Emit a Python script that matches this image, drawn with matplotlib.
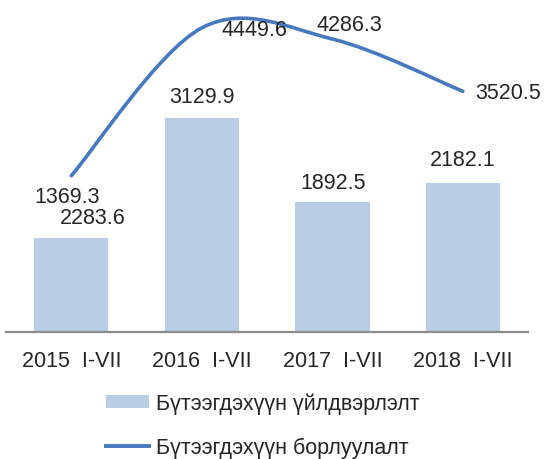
import numpy as np
import matplotlib
matplotlib.use('Agg')
import matplotlib.pyplot as plt
from matplotlib.path import Path
from matplotlib.patches import PathPatch, Patch
from matplotlib.lines import Line2D

plt.rcParams['font.family'] = ['Liberation Sans', 'DejaVu Sans']

periods = ['2015  I-VII', '2016  I-VII', '2017  I-VII', '2018  I-VII']
production = [1369.3, 3129.9, 1892.5, 2182.1]
sales = [2283.6, 4449.6, 4286.3, 3520.5]
# labels as printed on the source chart (first pair is swapped there)
production_labels = ['2283.6', '3129.9', '1892.5', '2182.1']
sales_labels = ['1369.3', '4449.6', '4286.3', '3520.5']
series_names = ['Бүтээгдэхүүн үйлдвэрлэлт', 'Бүтээгдэхүүн борлуулалт']

bar_color = '#B9CDE5'
line_color = '#4679BE'
text_color = '#262626'
fs = 15.5


def smooth_path(xs, ys):
    # excel style smoothed line: cubic bezier through each point
    pts = np.column_stack([xs, ys]).astype(float)
    n = len(pts)
    verts = [pts[0]]
    codes = [Path.MOVETO]
    for i in range(n - 1):
        p_prev = pts[max(i - 1, 0)]
        p_next2 = pts[min(i + 2, n - 1)]
        c1 = pts[i] + (pts[i + 1] - p_prev) / 6
        c2 = pts[i + 1] - (p_next2 - pts[i]) / 6
        verts += [c1, c2, pts[i + 1]]
        codes += [Path.CURVE4] * 3
    return Path(verts, codes)


fig = plt.figure(figsize=(5.45, 4.6), dpi=100)
ax = fig.add_axes([0.011, 0.2767, 0.958, 0.7126])

x = np.arange(len(periods))
ax.bar(x, production, width=0.57, color=bar_color, zorder=2)
ax.add_patch(PathPatch(smooth_path(x, sales), fill=False, edgecolor=line_color,
                       lw=2.6, capstyle='round', zorder=3))

ax.set_xlim(-0.5, len(periods) - 0.5)
ax.set_ylim(0, 4800)
for s in ['top', 'left', 'right']:
    ax.spines[s].set_visible(False)
ax.spines['bottom'].set_color('#8c8c8c')
ax.spines['bottom'].set_linewidth(1.6)
ax.set_yticks([])
ax.set_xticks(x, periods)
ax.tick_params(axis='x', length=0, pad=13, labelsize=fs, labelcolor=text_color)

# data labels (offsets in pixels)
bar_offsets = [(21, 21), (0, 21), (1, 20), (0, 23)]
line_offsets = [(-4, -21), (53, -2), (17, 15), (45, -1)]
for xi, v, lab, off in zip(x, production, production_labels, bar_offsets):
    ax.annotate(lab, (xi, v), xytext=off, textcoords='offset pixels',
                ha='center', va='center', fontsize=fs, color=text_color, zorder=4)
for xi, v, lab, off in zip(x, sales, sales_labels, line_offsets):
    ax.annotate(lab, (xi, v), xytext=off, textcoords='offset pixels',
                ha='center', va='center', fontsize=fs, color=text_color, zorder=4)

handles = [Patch(facecolor=bar_color), Line2D([], [], color=line_color, lw=2.8)]
fig.legend(handles, series_names, loc='center', bbox_to_anchor=(0.482, 0.073),
           frameon=False, fontsize=fs, handlelength=2.0, handleheight=0.5,
           handletextpad=0.3, labelspacing=1.05, labelcolor=text_color)

fig.savefig('out.png', dpi=100)
